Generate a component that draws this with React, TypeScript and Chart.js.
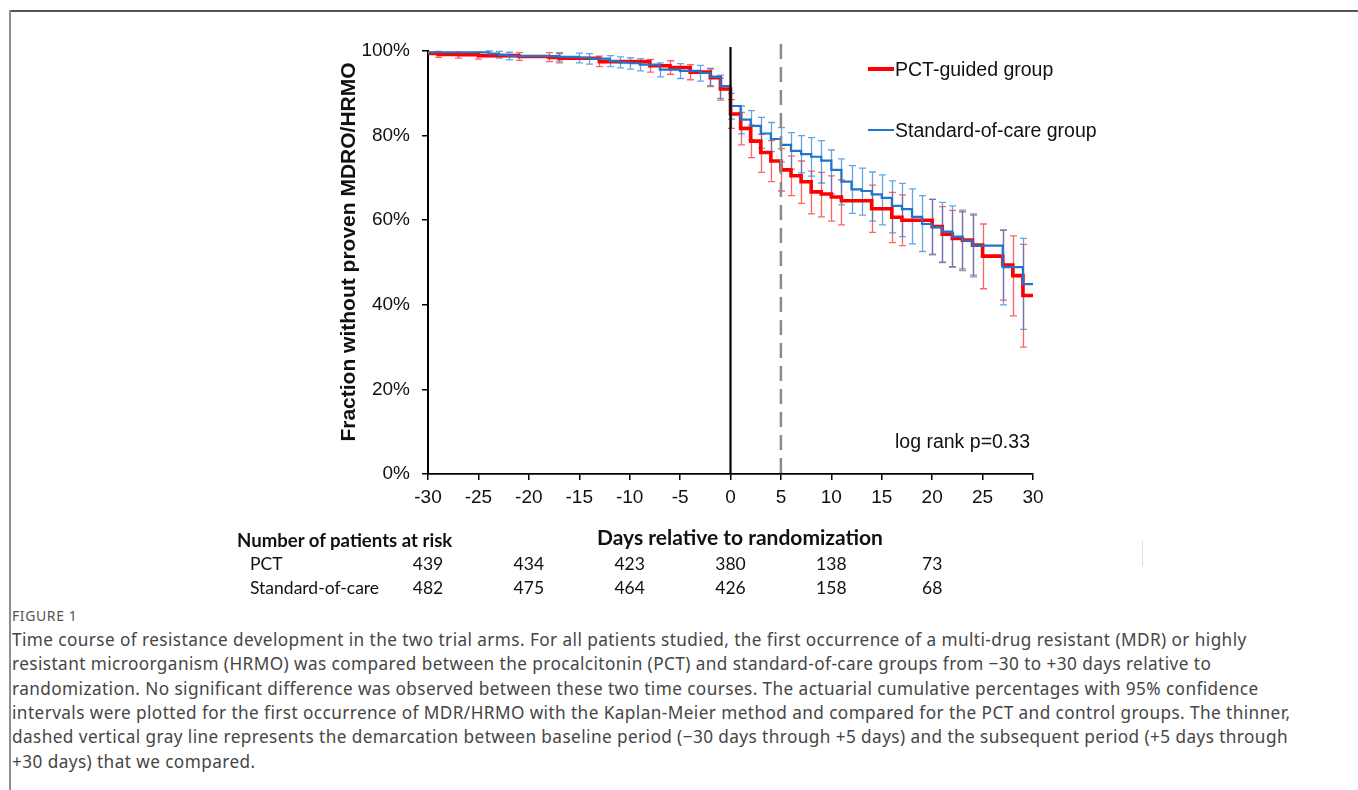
import React, { useEffect, useRef } from "react";
import { Chart, registerables } from "chart.js";
Chart.register(...registerables);

// ---------- DATA ----------
const xMin = -30;
const xMax = 30;
const xStep = 5;
const yMin = 0;
const yMax = 100;
const yStep = 20;

// PCT-guided group (red) – Kaplan-Meier steps (day, % without MDRO/HRMO)
const pctDays = [-30, -29, -27, -25, -21, -18, -17, -13, -8, -6, -4, -2, -1, 0, 1, 2, 3, 4, 5, 6, 7, 8, 9, 10, 11, 14, 16, 17, 20, 21, 22, 23, 24, 25, 27, 28, 29, 30];
const pctSurv = [99.4, 99.2, 99.1, 98.9, 98.7, 98.5, 98.3, 97.5, 96.5, 96.1, 95.0, 93.7, 91.0, 85.1, 81.7, 78.7, 76.0, 74.0, 71.9, 70.5, 69.1, 66.7, 66.2, 65.5, 64.6, 62.7, 60.7, 60.0, 58.5, 56.7, 55.7, 55.3, 54.1, 51.5, 49.4, 46.9, 42.2, 42.2];
const pctUpper = [null, 99.9, 99.8, 99.7, 99.6, 99.6, 99.4, 98.8, 98.0, 97.7, 96.8, 95.8, 93.6, 88.5, 85.5, 82.5, 80.3, 78.8, 76.9, 75.2, 74.0, 71.6, 71.3, 70.5, 69.5, 68.3, 66.6, 66.0, 64.9, 63.2, 62.3, 62.0, 61.2, 59.1, 57.6, 56.3, 54.3, null];
const pctLower = [null, 98.5, 98.3, 98.1, 97.8, 97.5, 97.2, 96.3, 95.0, 94.5, 93.2, 91.6, 88.4, 81.7, 77.8, 74.8, 71.3, 69.1, 66.9, 65.8, 64.0, 61.5, 60.8, 59.8, 58.9, 57.1, 54.7, 54.0, 52.0, 50.1, 49.0, 48.5, 47.0, 43.8, 41.1, 37.4, 30.0, null];

// Standard-of-care group (blue)
const socDays = [-30, -24, -23, -22, -17, -15, -14, -12, -11, -10, -9, -7, -5, -3, -2, -1, 0, 1, 2, 3, 4, 5, 6, 7, 8, 9, 10, 11, 12, 13, 14, 15, 16, 17, 18, 19, 20, 21, 22, 23, 24, 27, 29, 30];
const socSurv = [99.7, 99.4, 99.1, 98.8, 98.6, 98.4, 98.2, 97.6, 97.3, 97.1, 96.8, 95.6, 95.3, 94.8, 93.9, 91.7, 87.0, 83.8, 82.3, 80.5, 79.2, 77.8, 76.4, 75.6, 75.0, 74.1, 71.9, 69.1, 67.3, 66.9, 66.1, 65.3, 63.4, 62.6, 60.8, 59.1, 58.3, 57.3, 56.1, 55.2, 54.0, 48.9, 44.9, 44.9];
const socUpper = [null, 100.0, 99.9, 99.7, 99.6, 99.5, 99.4, 98.9, 98.6, 98.4, 98.2, 97.2, 97.0, 96.6, 95.9, 94.3, 90.0, 87.0, 85.9, 84.3, 83.1, 81.9, 80.7, 80.0, 79.5, 78.8, 76.6, 74.5, 72.9, 72.3, 71.4, 70.7, 69.3, 68.7, 67.4, 65.8, 64.9, 64.2, 63.4, 62.4, 61.5, 57.7, 55.7, null];
const socLower = [null, 98.7, 98.3, 97.9, 97.6, 97.2, 96.9, 96.3, 96.0, 95.7, 95.3, 93.9, 93.5, 92.9, 91.8, 88.8, 83.9, 80.4, 79.0, 77.0, 76.2, 73.8, 72.0, 71.2, 70.4, 68.8, 66.2, 63.6, 61.6, 61.2, 59.8, 58.9, 57.0, 56.1, 54.4, 52.6, 51.8, 50.0, 48.9, 48.1, 46.6, 40.0, 34.2, null];

const randomizationDay = 0;
const baselineEndDay = 5;

// Number at risk table
const riskDays = [-30, -20, -10, 0, 10, 20];
const riskPCT = [439, 434, 423, 380, 138, 73];
const riskSOC = [482, 475, 464, 426, 158, 68];

const seriesNames = ["PCT-guided group", "Standard-of-care group"];
const yTitle = "Fraction without proven MDRO/HRMO";
const xTitle = "Days relative to randomization";
const pText = "log rank p=0.33";
const captionLabel = "FIGURE 1";
const captionLines = [
  "Time course of resistance development in the two trial arms. For all patients studied, the first occurrence of a multi-drug resistant (MDR) or highly",
  "resistant microorganism (HRMO) was compared between the procalcitonin (PCT) and standard-of-care groups from \u221230 to +30 days relative to",
  "randomization. No significant difference was observed between these two time courses. The actuarial cumulative percentages with 95% confidence",
  "intervals were plotted for the first occurrence of MDR/HRMO with the Kaplan-Meier method and compared for the PCT and control groups. The thinner,",
  "dashed vertical gray line represents the demarcation between baseline period (\u221230 days through +5 days) and the subsequent period (+5 days through",
  "+30 days) that we compared.",
];

// ---------- LAYOUT ----------
const CANVAS_W = 1358;
const CANVAS_H = 560;
const AREA_L = 428;
const AREA_R = 1033;
const AREA_T = 51;
const AREA_B = 474;
const Y_AXIS_W = 100;
const X_AXIS_H = 40;

const RED = "#ff0000";
const BLUE = "#1f74cc";
const SANS = "'Liberation Sans', Arial, sans-serif";
const HUMAN = "Lato, 'Open Sans', sans-serif";
const CAPTION = "'Noto Sans', 'Open Sans', sans-serif";

const dayToPx = (d: number) => AREA_L + ((d - xMin) / (xMax - xMin)) * (AREA_R - AREA_L);

const errorBarsPlugin = {
  id: "errorBars",
  beforeDatasetsDraw(chart: any) {
    const { ctx, scales } = chart;
    const x = scales.x;
    const y = scales.y;
    const order = [1, 0];
    ctx.save();
    for (const di of order) {
      const ds = chart.data.datasets[di];
      const up: (number | null)[] = ds.errUpper;
      const lo: (number | null)[] = ds.errLower;
      ctx.strokeStyle = ds.errColor;
      ctx.lineWidth = 1.3;
      ds.data.forEach((p: any, i: number) => {
        if (up[i] == null || lo[i] == null) return;
        const px = Math.round(x.getPixelForValue(p.x)) + 0.5;
        const yu = y.getPixelForValue(up[i] as number);
        const yl = y.getPixelForValue(lo[i] as number);
        ctx.beginPath();
        ctx.moveTo(px, yu);
        ctx.lineTo(px, yl);
        ctx.moveTo(px - 3.5, yu);
        ctx.lineTo(px + 3.5, yu);
        ctx.moveTo(px - 3.5, yl);
        ctx.lineTo(px + 3.5, yl);
        ctx.stroke();
      });
    }
    ctx.restore();
  },
  afterDatasetsDraw(chart: any) {
    const { ctx, scales, chartArea } = chart;
    const x = scales.x;
    ctx.save();
    // dashed gray demarcation line
    const xd = x.getPixelForValue(baselineEndDay);
    ctx.strokeStyle = "#8a8a8a";
    ctx.lineWidth = 2.5;
    ctx.setLineDash([15, 8]);
    ctx.beginPath();
    ctx.moveTo(xd, chartArea.top - 7);
    ctx.lineTo(xd, chartArea.bottom);
    ctx.stroke();
    // black randomization line
    ctx.setLineDash([]);
    const x0 = x.getPixelForValue(randomizationDay);
    ctx.strokeStyle = "#000";
    ctx.lineWidth = 2.2;
    ctx.beginPath();
    ctx.moveTo(x0, chartArea.top - 4);
    ctx.lineTo(x0, chartArea.bottom);
    ctx.stroke();
    ctx.restore();
  },
};

function Txt(props: { left: number; cy: number; size: number; children: any; style?: any; center?: boolean }) {
  const lh = Math.round(props.size * 1.25);
  const base: any = {
    position: "absolute",
    top: props.cy - lh / 2,
    fontSize: props.size,
    lineHeight: lh + "px",
    whiteSpace: "nowrap",
    color: "#111",
  };
  if (props.center) {
    base.left = props.left - 200;
    base.width = 400;
    base.textAlign = "center";
  } else {
    base.left = props.left;
  }
  return <div style={{ ...base, ...(props.style || {}) }}>{props.children}</div>;
}

export default function App() {
  const canvasRef = useRef<HTMLCanvasElement | null>(null);

  useEffect(() => {
    if (!canvasRef.current) return;
    const chart = new Chart(canvasRef.current, {
      type: "line",
      data: {
        datasets: [
          {
            label: seriesNames[1],
            data: socDays.map((d, i) => ({ x: d, y: socSurv[i] })),
            borderColor: BLUE,
            borderWidth: 2.2,
            pointRadius: 0,
            stepped: "before",
            fill: false,
            order: 0,
            errUpper: socUpper,
            errLower: socLower,
            errColor: "rgba(40,130,215,0.72)",
          } as any,
          {
            label: seriesNames[0],
            data: pctDays.map((d, i) => ({ x: d, y: pctSurv[i] })),
            borderColor: RED,
            borderWidth: 3.6,
            pointRadius: 0,
            stepped: "before",
            fill: false,
            order: 1,
            errUpper: pctUpper,
            errLower: pctLower,
            errColor: "rgba(255,40,40,0.72)",
          } as any,
        ],
      },
      options: {
        responsive: false,
        animation: false,
        devicePixelRatio: 1,
        layout: {
          padding: {
            left: AREA_L - Y_AXIS_W,
            right: CANVAS_W - AREA_R,
            top: AREA_T,
            bottom: CANVAS_H - AREA_B - X_AXIS_H,
          },
        },
        plugins: {
          legend: { display: false },
          tooltip: { enabled: false },
          title: { display: false },
        },
        scales: {
          x: {
            type: "linear",
            min: xMin,
            max: xMax,
            afterFit: (s: any) => {
              s.height = X_AXIS_H;
            },
            ticks: {
              stepSize: xStep,
              color: "#111",
              font: { family: SANS, size: 19 },
              padding: 6,
              maxRotation: 0,
              callback: (v: any) => String(v),
            },
            grid: {
              drawOnChartArea: false,
              drawTicks: true,
              tickLength: 6,
              color: "#000",
              lineWidth: 1.5,
            },
            border: { display: true, color: "#000", width: 1.8 },
          },
          y: {
            type: "linear",
            min: yMin,
            max: yMax,
            afterFit: (s: any) => {
              s.width = Y_AXIS_W;
            },
            ticks: {
              stepSize: yStep,
              color: "#111",
              font: { family: SANS, size: 19 },
              padding: 12,
              callback: (v: any) => v + "%",
            },
            grid: {
              drawOnChartArea: false,
              drawTicks: true,
              tickLength: 6,
              color: "#000",
              lineWidth: 1.5,
            },
            border: { display: true, color: "#000", width: 2 },
          },
        },
      },
      plugins: [errorBarsPlugin],
    } as any);
    return () => chart.destroy();
  }, []);

  return (
    <div
      style={{
        position: "absolute",
        left: 0,
        top: 0,
        width: 1358,
        height: 790,
        overflow: "hidden",
        background: "#fff",
        fontFamily: SANS,
      }}
    >
      {/* frame */}
      <div style={{ position: "absolute", left: 9, top: 10, width: 1349, height: 0, borderTop: "2px solid #555" }} />
      <div style={{ position: "absolute", left: 9, top: 10, width: 0, height: 780, borderLeft: "2px solid #8e8e8e" }} />

      <canvas
        ref={canvasRef}
        width={CANVAS_W}
        height={CANVAS_H}
        style={{ position: "absolute", left: 0, top: 0, width: CANVAS_W, height: CANVAS_H }}
      />

      {/* y-axis title */}
      <div
        style={{
          position: "absolute",
          left: 348 - 220,
          top: 252 - 13,
          width: 440,
          height: 26,
          lineHeight: "26px",
          textAlign: "center",
          fontWeight: "bold",
          fontSize: 21,
          color: "#111",
          transform: "rotate(-90deg)",
          transformOrigin: "50% 50%",
          whiteSpace: "nowrap",
        }}
      >
        {yTitle}
      </div>

      {/* legend */}
      <div style={{ position: "absolute", left: 868, top: 67, width: 26, height: 4, background: RED }} />
      <Txt left={895} cy={69} size={19.5}>{seriesNames[0]}</Txt>
      <div style={{ position: "absolute", left: 868, top: 129, width: 26, height: 2, background: BLUE }} />
      <Txt left={895} cy={130} size={19.5}>{seriesNames[1]}</Txt>

      <Txt left={895} cy={441} size={19.5}>{pText}</Txt>

      {/* x-axis title */}
      <Txt left={740} cy={537} size={21} center style={{ fontFamily: HUMAN, fontWeight: "bold" }}>
        {xTitle}
      </Txt>

      {/* risk table */}
      <Txt left={237} cy={540} size={18.6} style={{ fontFamily: HUMAN, fontWeight: "bold" }}>
        Number of patients at risk
      </Txt>
      <Txt left={250} cy={564} size={17.5} style={{ fontFamily: HUMAN }}>PCT</Txt>
      <Txt left={250} cy={588} size={17.5} style={{ fontFamily: HUMAN }}>Standard-of-care</Txt>
      {riskDays.map((d, i) => (
        <Txt key={"p" + i} left={dayToPx(d)} cy={564} size={17.5} center style={{ fontFamily: HUMAN }}>
          {riskPCT[i]}
        </Txt>
      ))}
      {riskDays.map((d, i) => (
        <Txt key={"s" + i} left={dayToPx(d)} cy={588} size={17.5} center style={{ fontFamily: HUMAN }}>
          {riskSOC[i]}
        </Txt>
      ))}
      <div style={{ position: "absolute", left: 1142, top: 541, width: 1, height: 25, background: "#dcdcdc" }} />

      {/* caption */}
      <Txt left={12} cy={616} size={14} style={{ fontFamily: CAPTION, color: "#555", letterSpacing: 0.6 }}>
        {captionLabel}
      </Txt>
      {captionLines.map((line, i) => (
        <Txt
          key={"c" + i}
          left={12}
          cy={640 + i * 24.3}
          size={17.2}
          style={{ fontFamily: CAPTION, color: "#454545", letterSpacing: 0.42 }}
        >
          {line}
        </Txt>
      ))}
    </div>
  );
}
